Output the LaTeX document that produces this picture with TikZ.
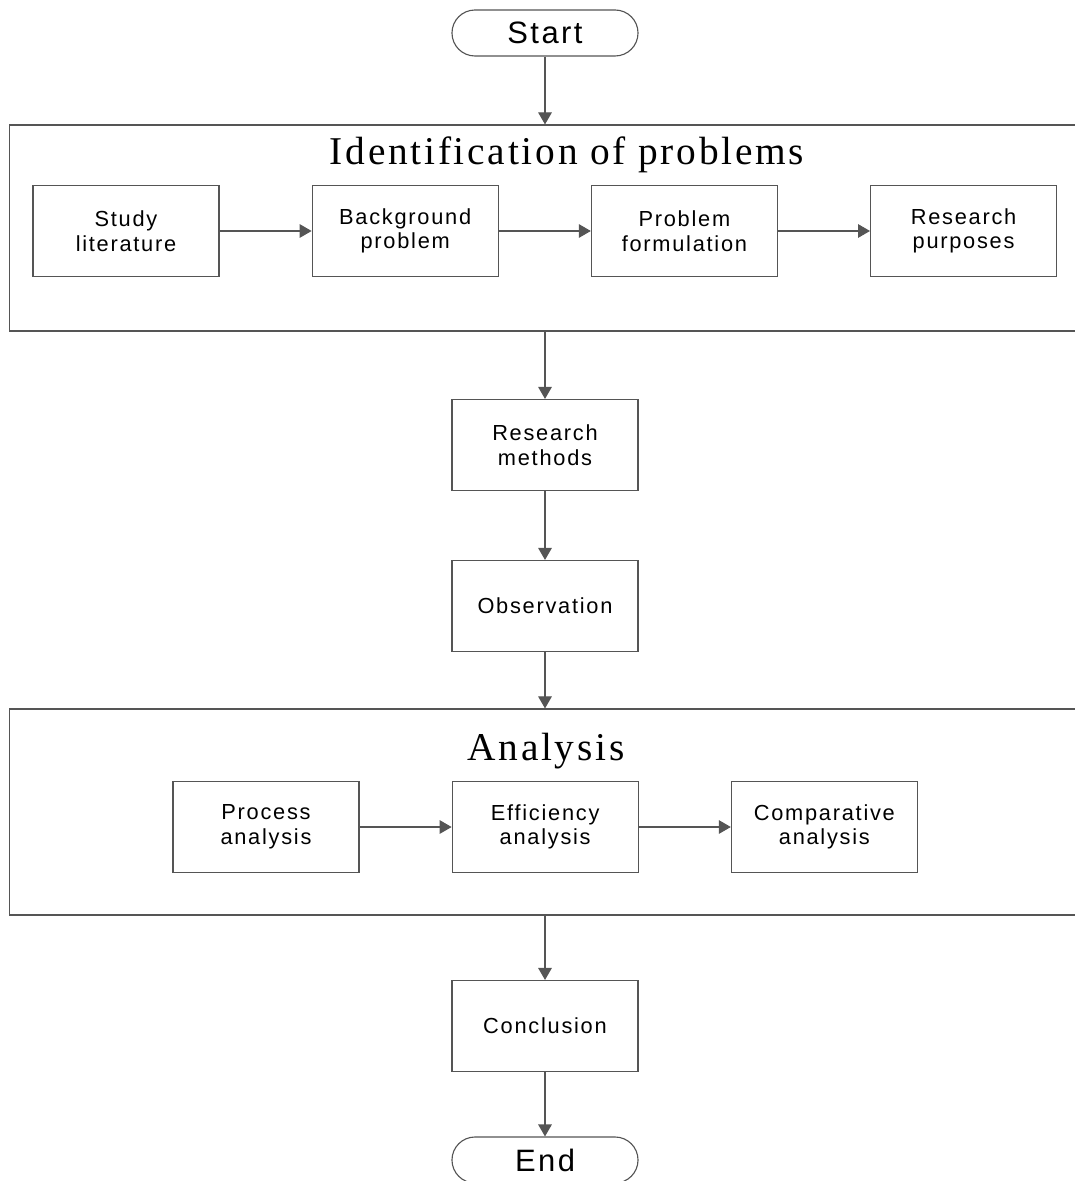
\documentclass[tikz,border=0pt]{standalone}
\usepackage{fontspec}
\setmainfont{Liberation Serif}
\newfontfamily\boxfont[LetterSpace=8]{Liberation Sans}
\newfontfamily\titlefont[LetterSpace=7]{Liberation Serif}
\usetikzlibrary{arrows.meta,positioning}
\definecolor{linegray}{RGB}{85,85,85}

\begin{document}
\begin{tikzpicture}[
    x=0.025cm, y=-0.025cm,
    node distance=2.3cm,
    every node/.style={font=\boxfont\fontsize{15.5}{17.5}\selectfont},
    proc/.style={draw=linegray, line width=0.8pt, align=center, minimum width=4.65cm, minimum height=2.275cm, inner sep=0pt},
    term/.style={draw=linegray, line width=0.8pt, rounded corners=0.575cm, minimum width=4.65cm, minimum height=1.15cm, inner sep=0pt, font=\boxfont\fontsize{22}{26}\selectfont},
    stage/.style={draw=linegray, line width=0.8pt, minimum width=27.85cm, minimum height=5.15cm, inner sep=0pt},
    title/.style={font=\titlefont\fontsize{28}{32}\selectfont},
    flow/.style={-{Triangle[length=3mm, width=3.4mm]}, draw=linegray, line width=0.8pt}
]
\useasboundingbox (0,0) rectangle (1074,1181);
\node[term] (start) at (545,33) {Start};
% identification stage
\node[stage] (ident) at (567,228) {};
\node[title] (identtitle) at (567,155) {Identification of problems};
\node[proc] (study) at (126,231) {Study\\literature};
\node[proc, right=of study] (background) {Background\\problem};
\node[proc, right=of background] (formulation) {Problem\\formulation};
\node[proc, right=of formulation] (purposes) {Research\\purposes};
\node[proc] (methods) at (545,445) {Research\\methods};
\node[proc] (observation) at (545,606) {Observation};
% analysis stage
\node[stage] (analysis) at (567,812) {};
\node[title] (analysistitle) at (546,751) {Analysis};
\node[proc] (process) at (266,827) {Process\\analysis};
\node[proc, right=of process] (efficiency) {Efficiency\\analysis};
\node[proc, right=of efficiency] (comparative) {Comparative\\analysis};
\node[proc] (conclusion) at (545,1026) {Conclusion};
\node[term] (end) at (545,1160) {End};
\draw[flow] (start.south) -- (start.south |- ident.north);
\draw[flow] (study) -- (background);
\draw[flow] (background) -- (formulation);
\draw[flow] (formulation) -- (purposes);
\draw[flow] (methods.north |- ident.south) -- (methods.north);
\draw[flow] (methods) -- (observation);
\draw[flow] (observation.south) -- (observation.south |- analysis.north);
\draw[flow] (process) -- (efficiency);
\draw[flow] (efficiency) -- (comparative);
\draw[flow] (conclusion.north |- analysis.south) -- (conclusion.north);
\draw[flow] (conclusion) -- (end);
\end{tikzpicture}
\end{document}
